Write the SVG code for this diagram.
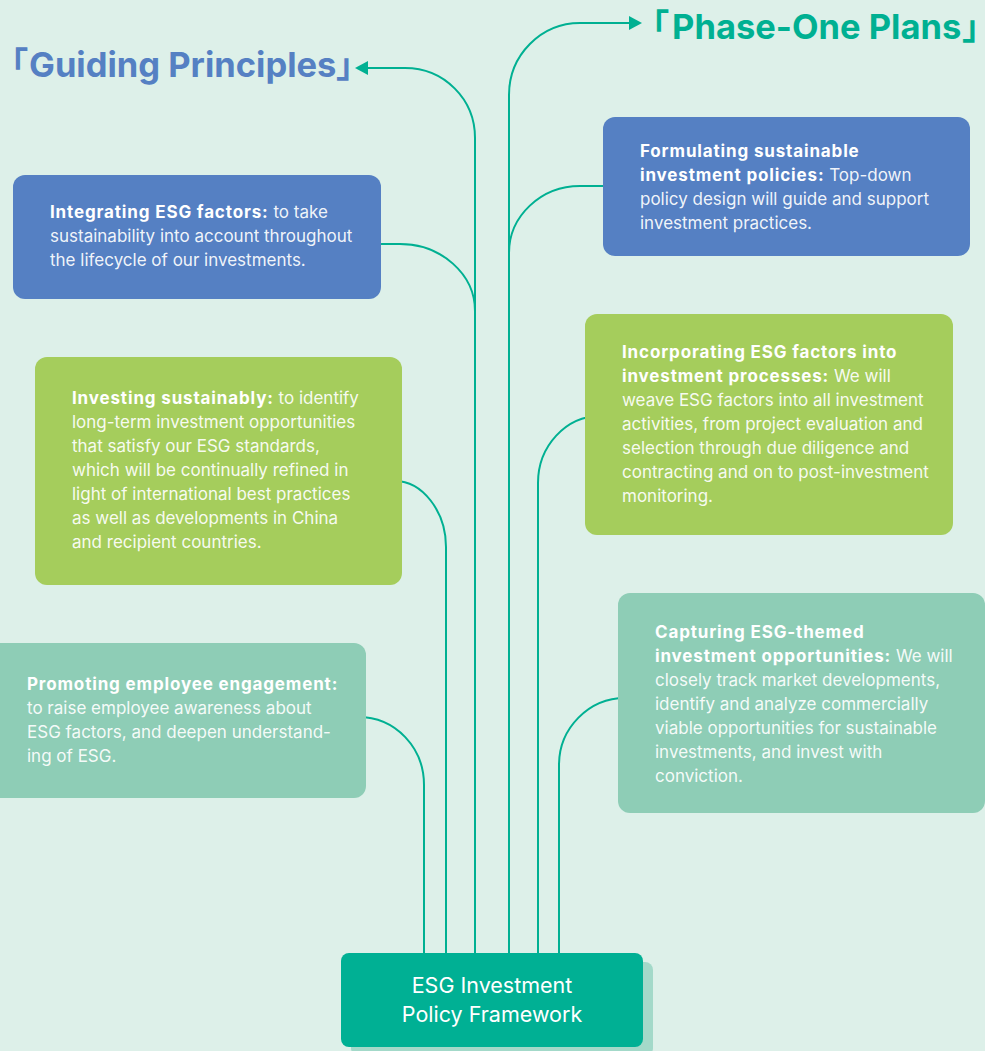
<svg xmlns="http://www.w3.org/2000/svg" width="985" height="1051" viewBox="0 0 985 1051">
<defs>
<style>
.bg{fill:#ddf0e9}
.blue{fill:#5580c3}
.green{fill:#a5cd5c}
.mint{fill:#8ecdb6}
.body{font-family:Inter,"Noto Sans",sans-serif;font-size:17px;fill:#ffffff;fill-opacity:0.93}
.b{font-weight:700;fill-opacity:1;letter-spacing:0.85px}
.conn{fill:none;stroke:#00b092;stroke-width:2}
.title{font-family:Inter,"Noto Sans CJK SC",sans-serif;font-size:34.5px;font-weight:700}
.br{font-family:"Noto Sans CJK SC",sans-serif;font-feature-settings:"halt" 1}
.main{font-family:Inter,"Noto Sans",sans-serif;font-size:21.5px;fill:#ffffff}
</style>
<marker id="arr" viewBox="0 0 13 14" refX="0" refY="7" markerWidth="13" markerHeight="14" markerUnits="userSpaceOnUse" orient="auto">
<path d="M0,0 L13,7 L0,14 Z" fill="#00b092"/>
</marker>
</defs>
<rect class="bg" x="0" y="0" width="985" height="1051"/>

<g id="connectors">
<path class="conn" d="M475,953 V138 C475,99 444,68 405,68 H368" marker-end="url(#arr)"/>
<path class="conn" d="M375,244 H400 C441,244 475,274 475,311 V953"/>
<path class="conn" d="M509,953 V95 C509,55 541,23 580,23 H629" marker-end="url(#arr)"/>
<path class="conn" d="M610,186 H580 C541,186 509,216 509,253 V953"/>
<path class="conn" d="M395,481 C422,481 446,511 446,547 V953"/>
<path class="conn" d="M358,717 C396,717 424,748 424,785 V953"/>
<path class="conn" d="M600,416 C566,416 538,446 538,483 V953"/>
<path class="conn" d="M625,698 C589,698 559,728 559,765 V953"/>
</g>

<g id="title-guiding">
<text class="title" fill="#5580c3" y="77"><tspan class="br" x="11">「</tspan><tspan x="29">Guiding Principles</tspan><tspan class="br" x="336">」</tspan></text>
</g>
<g id="title-phase">
<text class="title" fill="#00b092" y="39"><tspan class="br" x="652" letter-spacing="-2.5">「 </tspan><tspan>Phase-One Plans</tspan><tspan class="br" x="962">」</tspan></text>
</g>

<g id="node-integrating">
<rect class="blue" x="13" y="175" width="368" height="124" rx="12"/>
<text class="body"><tspan x="50" y="218"><tspan class="b">Integrating ESG factors:</tspan> to take</tspan><tspan x="50" y="242">sustainability into account throughout</tspan><tspan x="50" y="266">the lifecycle of our investments.</tspan></text>
</g>

<g id="node-investing">
<rect class="green" x="35" y="357" width="367" height="228" rx="12"/>
<text class="body"><tspan x="72" y="404"><tspan class="b">Investing sustainably:</tspan> to identify</tspan><tspan x="72" y="428">long-term investment opportunities</tspan><tspan x="72" y="452">that satisfy our ESG standards,</tspan><tspan x="72" y="476">which will be continually refined in</tspan><tspan x="72" y="500">light of international best practices</tspan><tspan x="72" y="524">as well as developments in China</tspan><tspan x="72" y="548">and recipient countries.</tspan></text>
</g>

<g id="node-promoting">
<rect class="mint" x="-12" y="643" width="378" height="155" rx="12"/>
<text class="body"><tspan x="27" y="690" class="b">Promoting employee engagement:</tspan><tspan x="27" y="714">to raise employee awareness about</tspan><tspan x="27" y="738">ESG factors, and deepen understand-</tspan><tspan x="27" y="762">ing of ESG.</tspan></text>
</g>

<g id="node-formulating">
<rect class="blue" x="603" y="117" width="367" height="139" rx="12"/>
<text class="body"><tspan x="640" y="157" class="b">Formulating sustainable</tspan><tspan x="640" y="181"><tspan class="b">investment policies:</tspan> Top-down</tspan><tspan x="640" y="205">policy design will guide and support</tspan><tspan x="640" y="229">investment practices.</tspan></text>
</g>

<g id="node-incorporating">
<rect class="green" x="585" y="314" width="368" height="221" rx="12"/>
<text class="body"><tspan x="622" y="358" class="b">Incorporating ESG factors into</tspan><tspan x="622" y="382"><tspan class="b">investment processes:</tspan> We will</tspan><tspan x="622" y="406">weave ESG factors into all investment</tspan><tspan x="622" y="430">activities, from project evaluation and</tspan><tspan x="622" y="454">selection through due diligence and</tspan><tspan x="622" y="478">contracting and on to post-investment</tspan><tspan x="622" y="502">monitoring.</tspan></text>
</g>

<g id="node-capturing">
<rect class="mint" x="618" y="593" width="367" height="220" rx="12"/>
<text class="body"><tspan x="655" y="638" class="b">Capturing ESG-themed</tspan><tspan x="655" y="662"><tspan class="b">investment opportunities:</tspan> We will</tspan><tspan x="655" y="686">closely track market developments,</tspan><tspan x="655" y="710">identify and analyze commercially</tspan><tspan x="655" y="734">viable opportunities for sustainable</tspan><tspan x="655" y="758">investments, and invest with</tspan><tspan x="655" y="782">conviction.</tspan></text>
</g>

<g id="node-framework">
<rect x="351" y="962" width="302" height="94" rx="8" fill="#a3d9c9"/>
<rect x="341" y="953" width="302" height="94" rx="8" fill="#00b094"/>
<text class="main" text-anchor="middle"><tspan x="492" y="993">ESG Investment</tspan><tspan x="492" y="1022">Policy Framework</tspan></text>
</g>
</svg>
